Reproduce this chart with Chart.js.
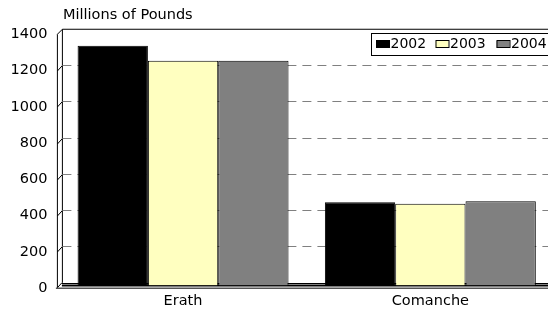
<!DOCTYPE html>
<html>
<head>
<meta charset="utf-8">
<script src="https://cdn.jsdelivr.net/npm/chart.js@4"></script>
<style>
    html, body { margin: 0; padding: 0; background: #fff; overflow: hidden; }
    #wrap { width: 548px; height: 310px; overflow: hidden; position: relative; }
</style>
</head>
<body>
<div id="wrap">
    <canvas id="chart" width="562" height="310"></canvas>
</div>
<script>
// Chart data
const categories = ['Erath', 'Comanche'];
const years = ['2002', '2003', '2004'];
const values2002 = [1321, 459];
const values2003 = [1239, 451];
const values2004 = [1239, 464];
const yTicks = [0, 200, 400, 600, 800, 1000, 1200, 1400];

const barColors = ['#000000', '#FFFFC0', '#808080'];
const FONT = 'DejaVu Sans';

// fake 3d depth: front plane is offset down/left, back wall up/right
const DX = 2.5;
const DY = 2.75;
const PAGE_W = 548;

const frame3d = {
    id: 'frame3d',
    beforeDatasetsDraw(chart) {
        const ctx = chart.ctx;
        const y = chart.scales.y;
        const area = chart.chartArea;
        const fx = area.left - DX;
        const bx = area.left + DX;
        const top = y.getPixelForValue(1400);
        const zero = y.getPixelForValue(0);

        ctx.save();
        ctx.lineWidth = 1;
        ctx.strokeStyle = '#000';

        // back wall top + left edges
        ctx.beginPath();
        ctx.moveTo(PAGE_W + 10, top - DY + 0.5);
        ctx.lineTo(bx + 0.5, top - DY + 0.5);
        ctx.lineTo(bx + 0.5, zero - DY);
        ctx.stroke();

        // front left edge
        ctx.beginPath();
        ctx.moveTo(bx + 0.5, top - DY + 0.5);
        ctx.lineTo(fx + 0.5, top + DY);
        ctx.lineTo(fx + 0.5, zero + DY);
        ctx.stroke();

        // gridlines on the back wall
        yTicks.forEach(v => {
            if (v === 0 || v === 1400) return;
            const py = Math.round(y.getPixelForValue(v) - DY) + 0.5;
            ctx.strokeStyle = '#000';
            ctx.setLineDash([]);
            ctx.beginPath();
            ctx.moveTo(fx + 0.5, py + 2 * DY);
            ctx.lineTo(bx + 0.5, py);
            ctx.stroke();
            ctx.strokeStyle = '#808080';
            ctx.setLineDash([9, 6]);
            ctx.beginPath();
            ctx.moveTo(bx + 0.5, py);
            ctx.lineTo(PAGE_W + 10, py);
            ctx.stroke();
        });
        ctx.setLineDash([]);

        // floor
        ctx.strokeStyle = '#000';
        ctx.beginPath();
        ctx.moveTo(bx, Math.round(zero - DY) + 0.5);
        ctx.lineTo(PAGE_W + 10, Math.round(zero - DY) + 0.5);
        ctx.stroke();
        ctx.beginPath();
        ctx.moveTo(fx, zero + DY);
        ctx.lineTo(bx, zero - DY);
        ctx.stroke();
        ctx.lineWidth = 2;
        ctx.beginPath();
        ctx.moveTo(bx, zero);
        ctx.lineTo(PAGE_W + 10, zero);
        ctx.stroke();
        ctx.restore();
    },
    afterDatasetsDraw(chart) {
        const ctx = chart.ctx;
        const y = chart.scales.y;
        const area = chart.chartArea;
        const zero = y.getPixelForValue(0);

        ctx.save();
        // front floor edge
        ctx.strokeStyle = '#555';
        ctx.lineWidth = 1.5;
        ctx.beginPath();
        ctx.moveTo(area.left - DX - 1, zero + DY);
        ctx.lineTo(PAGE_W + 10, zero + DY);
        ctx.stroke();

        // title
        ctx.fillStyle = '#000';
        ctx.font = '14.5px "' + FONT + '"';
        ctx.textBaseline = 'middle';
        ctx.textAlign = 'left';
        ctx.fillText('Millions of Pounds', 63, 15);

        // legend box (right side runs past the page edge)
        ctx.fillStyle = '#fff';
        ctx.fillRect(371, 33, 186, 22);
        ctx.strokeStyle = '#000';
        ctx.lineWidth = 1;
        ctx.strokeRect(371.5, 33.5, 186, 22);
        ctx.font = '14px "' + FONT + '"';
        const itemX = [376, 435.5, 496.5];
        years.forEach((yr, i) => {
            ctx.fillStyle = barColors[i];
            ctx.fillRect(itemX[i], 41, 13, 7);
            ctx.strokeRect(itemX[i] + 0.5, 40.5, 13, 7);
            ctx.fillStyle = '#000';
            ctx.fillText(yr, itemX[i] + 14.5, 44.5);
        });
        ctx.restore();
    }
};

const seriesValues = [values2002, values2003, values2004];

new Chart(document.getElementById('chart'), {
    type: 'bar',
    data: {
        labels: categories,
        datasets: years.map((yr, i) => ({
            label: yr,
            data: seriesValues[i],
            backgroundColor: barColors[i],
            borderColor: '#000',
            borderWidth: 1,
            barPercentage: 1,
            categoryPercentage: 0.853
        }))
    },
    options: {
        responsive: false,
        animation: false,
        devicePixelRatio: 1,
        layout: {
            padding: { top: 31.5, right: 8, bottom: 0, left: 0 }
        },
        plugins: {
            legend: { display: false },
            title: { display: false },
            tooltip: { enabled: false }
        },
        scales: {
            x: {
                grid: { display: false, drawTicks: false },
                border: { display: false },
                ticks: {
                    color: '#000',
                    padding: 7,
                    font: { family: FONT, size: 14.5 }
                },
                afterFit(scale) { scale.height = 24.5; }
            },
            y: {
                min: 0,
                max: 1400,
                grid: { display: false, drawTicks: false },
                border: { display: false },
                ticks: {
                    stepSize: 200,
                    color: '#000',
                    padding: 12,
                    labelOffset: DY,
                    font: { family: FONT, size: 14.5 },
                    callback: v => String(v)
                },
                afterFit(scale) { scale.width = 59.4; }
            }
        }
    },
    plugins: [frame3d]
});
</script>
</body>
</html>
